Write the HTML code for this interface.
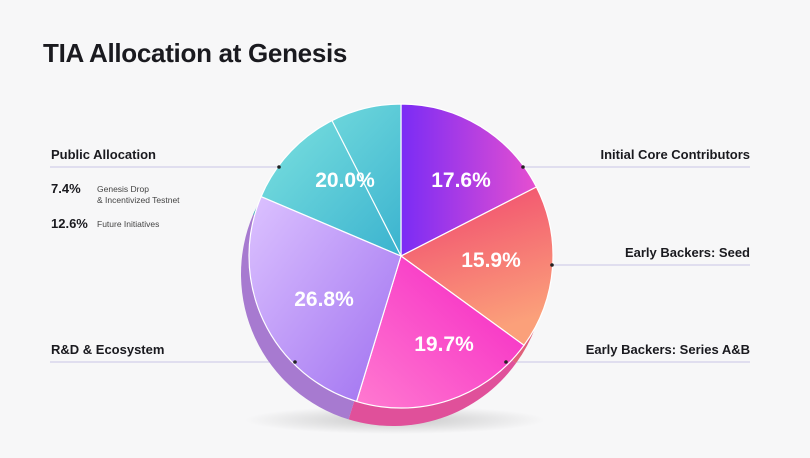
<!DOCTYPE html>
<html><head><meta charset="utf-8"><style>
body{margin:0;width:810px;height:458px;background:#f7f7f8;font-family:"Liberation Sans",sans-serif;overflow:hidden;position:relative;color:#1a1a1f}
.t{position:absolute;white-space:nowrap}
</style></head><body>
<div class="t" style="left:43px;top:38px;font-size:26px;font-weight:bold;letter-spacing:-0.3px">TIA Allocation at Genesis</div>
<svg width="810" height="458" style="position:absolute;left:0;top:0">
<defs>
<linearGradient id="g1" x1="0" y1="0" x2="1" y2="0"><stop offset="0" stop-color="#7a2cf5"/><stop offset="1" stop-color="#e64fd0"/></linearGradient>
<linearGradient id="g2" x1="0" y1="0" x2="0.3" y2="1"><stop offset="0" stop-color="#f0446e"/><stop offset="1" stop-color="#fba07a"/></linearGradient>
<linearGradient id="g3" x1="1" y1="0" x2="0" y2="1"><stop offset="0" stop-color="#f523c4"/><stop offset="1" stop-color="#ff7ad0"/></linearGradient>
<linearGradient id="g4" x1="0" y1="0" x2="1" y2="1"><stop offset="0" stop-color="#dcc2ff"/><stop offset="1" stop-color="#9f70f0"/></linearGradient>
<linearGradient id="g5" x1="0" y1="0" x2="1" y2="1"><stop offset="0" stop-color="#7fe3e0"/><stop offset="1" stop-color="#3bb3cf"/></linearGradient>
<radialGradient id="sh"><stop offset="0" stop-color="#999" stop-opacity="0.5"/><stop offset="1" stop-color="#999" stop-opacity="0"/></radialGradient>
</defs>
<ellipse cx="395" cy="420" rx="150" ry="14" fill="url(#sh)"/>
<g stroke="#c8c6e6" stroke-width="1">
<line x1="50" y1="167" x2="280" y2="167"/><line x1="520" y1="167" x2="750" y2="167"/>
<line x1="552" y1="265" x2="750" y2="265"/>
<line x1="50" y1="362" x2="295" y2="362"/><line x1="505" y1="362" x2="750" y2="362"/>
</g>
<g id="side"></g>
<g id="face" stroke="#fff" stroke-width="1.2"></g>
<g fill="#222"><circle cx="279" cy="167" r="1.8"/><circle cx="523" cy="167" r="1.8"/><circle cx="552" cy="265" r="1.8"/><circle cx="295" cy="362" r="1.8"/><circle cx="506" cy="362" r="1.8"/></g>
<g fill="#fff" font-size="21" font-weight="bold" text-anchor="middle" font-family="Liberation Sans,sans-serif">
<text x="345" y="187">20.0%</text><text x="461" y="187">17.6%</text><text x="491" y="267">15.9%</text><text x="324" y="306">26.8%</text><text x="444" y="351">19.7%</text>
</g>
</svg>
<div class="t" style="left:51px;top:147px;font-size:13px;font-weight:bold">Public Allocation</div>
<div class="t" style="left:51px;top:181px;font-size:13px;font-weight:bold">7.4%</div>
<div class="t" style="left:97px;top:184px;font-size:8.5px;line-height:11px;color:#444">Genesis Drop<br>&amp; Incentivized Testnet</div>
<div class="t" style="left:51px;top:216px;font-size:13px;font-weight:bold">12.6%</div>
<div class="t" style="left:97px;top:219px;font-size:8.5px;color:#444">Future Initiatives</div>
<div class="t" style="right:60px;top:147px;font-size:13px;font-weight:bold">Initial Core Contributors</div>
<div class="t" style="right:60px;top:245px;font-size:13px;font-weight:bold">Early Backers: Seed</div>
<div class="t" style="left:51px;top:342px;font-size:13px;font-weight:bold">R&amp;D &amp; Ecosystem</div>
<div class="t" style="right:60px;top:342px;font-size:13px;font-weight:bold">Early Backers: Series A&amp;B</div>
<script>
var cx=401,cy=256,r=152;
function P(a,R,ox,oy){a=a*Math.PI/180;return [(cx+ox+R*Math.sin(a)).toFixed(1),(cy+oy-R*Math.cos(a)).toFixed(1)];}
function arc(a0,a1,ox,oy,fill){var p0=P(a0,r,ox,oy),p1=P(a1,r,ox,oy);return '<path d="M'+(cx+ox)+','+(cy+oy)+' L'+p0+' A'+r+','+r+' 0 '+((a1-a0)>180?1:0)+' 1 '+p1+' Z" fill="'+fill+'"/>';}
var s=[[0,63,'url(#g1)','#b03ad0'],[63,126,'url(#g2)','#e0607a'],[126,197,'url(#g3)','#e0509a'],[197,293,'url(#g4)','#a77ad0'],[293,360,'url(#g5)','#3aa8b8']];
var side='',face='';
s.forEach(function(q){side+=arc(q[0],q[1],-8,18,q[3]);face+=arc(q[0],q[1],0,0,q[2]);});
var m=P(333,r,0,0);face+='<line x1="'+cx+'" y1="'+cy+'" x2="'+m[0]+'" y2="'+m[1]+'"/>';
document.getElementById('side').innerHTML=side;
document.getElementById('face').innerHTML=face;
</script>
</body></html>
